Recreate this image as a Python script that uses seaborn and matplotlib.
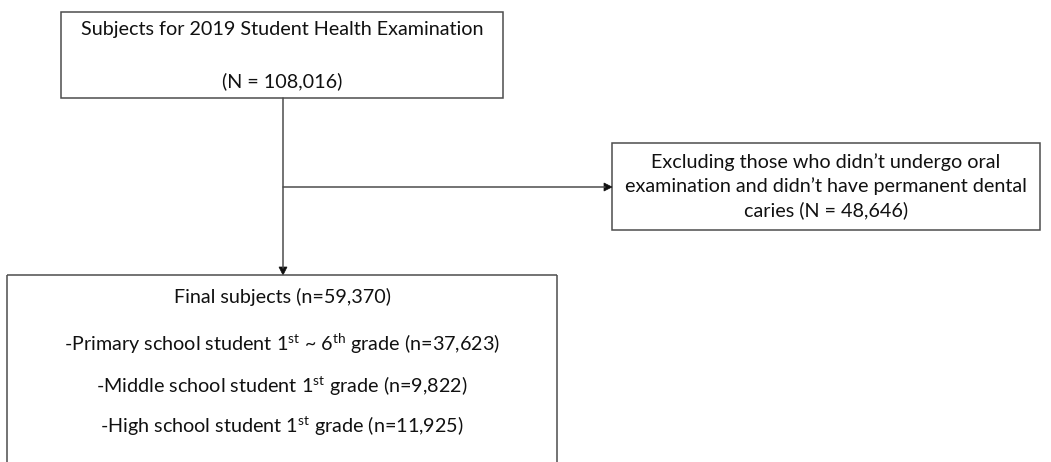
import matplotlib
matplotlib.use("Agg")
import matplotlib.pyplot as plt
import seaborn as sns
from matplotlib.patches import Rectangle, Polygon

sns.set_theme(style="white")
plt.rcParams['font.family'] = ['Lato', 'DejaVu Sans']
plt.rcParams['mathtext.fontset'] = 'custom'
plt.rcParams['mathtext.rm'] = 'Lato'
plt.rcParams['mathtext.it'] = 'Lato'

# ---- data ----
total_label = "Subjects for 2019 Student Health Examination"
total_n = "108,016"
excluded_lines = ["Excluding those who didn\u2019t undergo oral",
                  "examination and didn\u2019t have permanent dental",
                  "caries (N = 48,646)"]
final_n = "59,370"
group_labels = ["-Primary school student 1$^{\\mathrm{st}}$ ~ 6$^{\\mathrm{th}}$ grade",
                "-Middle school student 1$^{\\mathrm{st}}$ grade",
                "-High school student 1$^{\\mathrm{st}}$ grade"]
group_n = ["37,623", "9,822", "11,925"]

W, H = 1051, 462
fig = plt.figure(figsize=(W / 100, H / 100), dpi=100)
ax = fig.add_axes([0, 0, 1, 1])
ax.set_xlim(0, W)
ax.set_ylim(H, 0)
ax.axis("off")

edge = "#4d4d4d"
lw = 1.1
fs = 14.2
tc = "#111111"

def box(x0, y0, x1, y1):
    ax.add_patch(Rectangle((x0, y0), x1 - x0, y1 - y0, fill=False,
                           edgecolor=edge, linewidth=lw))

def head(tip, direction):
    x, y = tip
    if direction == "down":
        pts = [(x, y), (x - 4, y - 8), (x + 4, y - 8)]
    else:
        pts = [(x, y), (x - 8, y - 4), (x - 8, y + 4)]
    ax.add_patch(Polygon(pts, closed=True, facecolor="#111111", edgecolor="#111111", lw=0.5))

# Box 1
box(61, 12, 503, 98)
ax.text(282, 29, total_label, ha="center", va="center", fontsize=fs, color=tc)
ax.text(282, 81, f"(N = {total_n})", ha="center", va="center", fontsize=fs, color=tc)

# Box 2
box(612, 143, 1040, 230)
for i, t in enumerate(excluded_lines):
    ax.text(826, 162 + 24 * i, t, ha="center", va="center", fontsize=fs, color=tc)

# Box 3 (bottom edge cut off)
ax.plot([7, 7], [H + 5, 275], color=edge, lw=lw, solid_capstyle="butt")
ax.plot([7, 557], [275, 275], color=edge, lw=lw, solid_capstyle="butt")
ax.plot([557, 557], [275, H + 5], color=edge, lw=lw, solid_capstyle="butt")
ax.text(282, 297, f"Final subjects (n={final_n})", ha="center", va="center", fontsize=fs, color=tc)
ys = [344, 386, 426]
for y, lab, n in zip(ys, group_labels, group_n):
    ax.text(282, y, f"{lab} (n={n})", ha="center", va="center", fontsize=fs, color=tc)

# Connectors
ax.plot([283, 283], [98, 268], color=edge, lw=lw)
head((283, 275), "down")
ax.plot([283, 605], [187, 187], color=edge, lw=lw)
head((612, 187), "right")

fig.savefig("out.png", dpi=100)
